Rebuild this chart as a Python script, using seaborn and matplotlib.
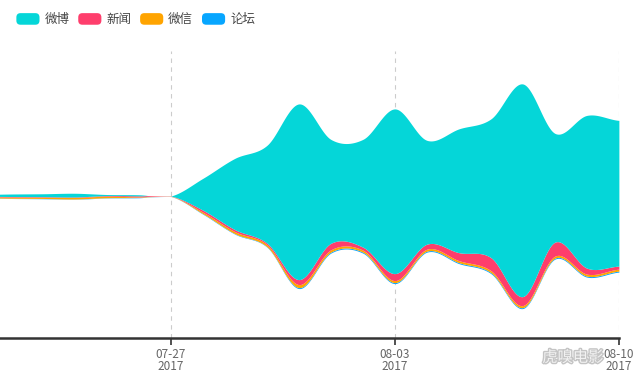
import numpy as np
import pandas as pd
import matplotlib
matplotlib.use("Agg")
import matplotlib.pyplot as plt
import matplotlib.patheffects as pe
from matplotlib.patches import FancyBboxPatch
from matplotlib.legend_handler import HandlerPatch
import seaborn as sns

# 数据 (2017-07-21 ~ 2017-08-10, 每日)
dates = pd.date_range("2017-07-21", "2017-08-10", freq="D")
weibo = [1.8, 2.5, 2.9, 3.7, 1.1, 1.1, 0.1, 32, 71.5, 98, 176, 104, 108, 165,
         104, 124, 139, 213, 109, 153, 146]
news = [0.4, 0.5, 0.5, 0.5, 0.6, 1.0, 0.2, 2, 2, 1.5, 5, 6.5, 3, 7,
        5, 8, 13, 9, 14, 6, 3]
wechat = [1.0, 1.2, 1.3, 1.5, 1.5, 0.6, 0.2, 1.5, 2, 2, 3, 2.3, 2, 2,
          2, 2, 2, 2, 2, 2, 2]
forum = [0.3, 0.3, 0.3, 0.3, 0.3, 0.3, 0.1, 0.5, 0.5, 0.5, 1, 1, 1, 1,
         1, 1, 1, 1, 1, 1, 1]
names = ["微博", "新闻", "微信", "论坛"]
colors = ["#05d6d8", "#fe3e6c", "#ffa400", "#07a6ff"]
tick_dates = ["2017-07-27", "2017-08-03", "2017-08-10"]

sns.set_style("white")
plt.rcParams["font.family"] = ["Noto Sans CJK SC", "DejaVu Sans"]


def smooth(x, y, n=24):
    # Catmull-Rom 平滑, 类似 echarts 的 smooth 曲线
    y = np.asarray(y, dtype=float)
    yp = np.concatenate([[y[0]], y, [y[-1]]])
    xs, ys = [], []
    for i in range(len(y) - 1):
        p0, p1, p2, p3 = yp[i], yp[i + 1], yp[i + 2], yp[i + 3]
        m1 = (p2 - p0) / 2
        m2 = (p3 - p1) / 2
        t = np.linspace(0, 1, n, endpoint=False)
        h00 = 2 * t**3 - 3 * t**2 + 1
        h10 = t**3 - 2 * t**2 + t
        h01 = -2 * t**3 + 3 * t**2
        h11 = t**3 - t**2
        xs.append(x[i] + t * (x[i + 1] - x[i]))
        ys.append(h00 * p1 + h10 * m1 + h01 * p2 + h11 * m2)
    xs.append([x[-1]])
    ys.append([y[-1]])
    return np.concatenate(xs), np.clip(np.concatenate(ys), 0, None)


class RoundHandler(HandlerPatch):
    def create_artists(self, legend, orig, xd, yd, w, h, fontsize, trans):
        p = FancyBboxPatch((-xd, -yd), w, h, boxstyle="round,pad=0,rounding_size=3",
                           fc=orig.get_facecolor(), ec="none", transform=trans)
        return [p]


x = (dates - pd.Timestamp("2017-07-27")).days.values.astype(float)
layers = [forum, wechat, news, weibo]  # 自下而上
sm = [smooth(x, s) for s in layers]
xx = sm[0][0]

fig = plt.figure(figsize=(6.4, 3.77), dpi=100)
ax = fig.add_axes([0, 0.1034, 0.967, 0.76])

ax.stackplot(xx, *[s[1] for s in sm], baseline="sym",
             colors=colors[::-1], linewidth=0)

ticks = [(pd.Timestamp(d) - pd.Timestamp("2017-07-27")).days for d in tick_dates]
for t in ticks:
    ax.axvline(t, color="#cccccc", lw=0.8, ls=(0, (4, 4)), zorder=0)

ax.set_xlim(-171 / 32, 14)
ax.set_ylim(-142, 145)
ax.set_xticks(ticks)
ax.set_xticklabels([pd.Timestamp(d).strftime("%m-%d\n%Y") for d in tick_dates],
                   fontsize=8.5, color="#666666", linespacing=0.95)
ax.tick_params(axis="x", length=5, width=1.2, color="#333333", pad=2,
               bottom=True)
ax.set_yticks([])
sns.despine(ax=ax, left=True, top=True, right=True)
ax.spines["bottom"].set_color("#333333")
ax.spines["bottom"].set_linewidth(1.8)

handles = [plt.Rectangle((0, 0), 1, 1, color=c) for c in colors]
fig.legend(handles, names, loc="upper left", bbox_to_anchor=(0.008, 0.995),
           ncol=4, frameon=False, fontsize=9, handlelength=1.85,
           handleheight=1.05, handletextpad=0.4, columnspacing=0.7,
           labelcolor="#444444",
           handler_map={plt.Rectangle: RoundHandler()})

fig.text(0.895, 0.052, "虎嗅电影", fontsize=11, color="#f2f2f2",
         ha="center", va="center",
         path_effects=[pe.withStroke(linewidth=2, foreground="#c4c4c4")])

fig.savefig("out.png", dpi=100)
